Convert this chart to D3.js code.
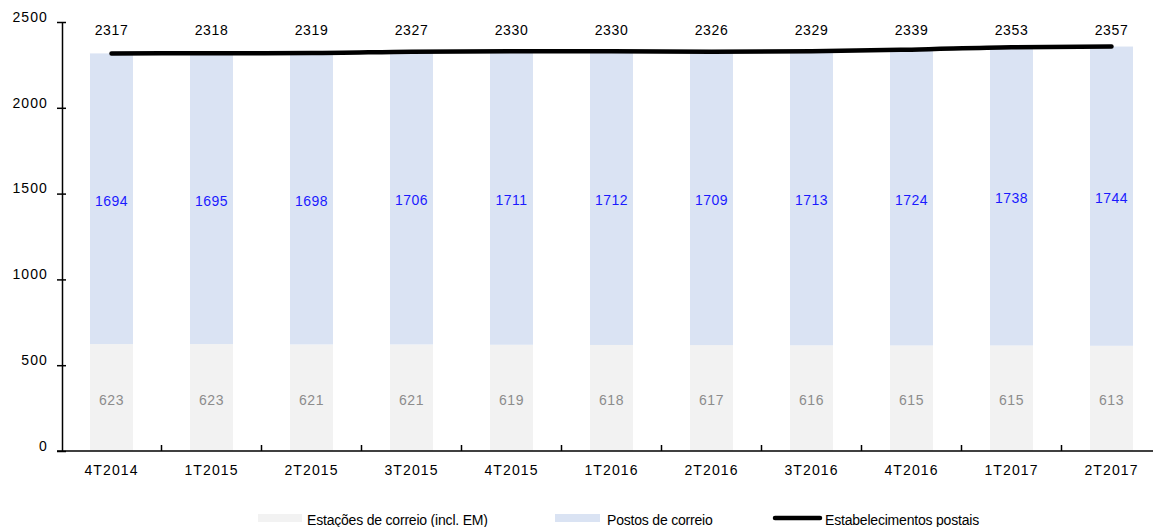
<!doctype html>
<html>
<head>
<meta charset="utf-8">
<script src="https://d3js.org/d3.v7.min.js"></script>
<style>
  body { margin: 0; background: #fff; }
  text { font-family: "Liberation Sans", Arial, sans-serif; }
  .axis text { font-size: 14px; fill: #000; letter-spacing: 1.1px; }
  .axis path, .axis line { stroke: #000; stroke-width: 1.5; }
</style>
</head>
<body>
<script>
var categories = ["4T2014","1T2015","2T2015","3T2015","4T2015","1T2016","2T2016","3T2016","4T2016","1T2017","2T2017"];
var estacoes = [623,623,621,621,619,618,617,616,615,615,613];
var postos = [1694,1695,1698,1706,1711,1712,1709,1713,1724,1738,1744];
var totais = [2317,2318,2319,2327,2330,2330,2326,2329,2339,2353,2357];
var yTicks = [0,500,1000,1500,2000,2500];

var w = 1153, h = 527;
var svg = d3.select("body").append("svg").attr("width", w).attr("height", h);

var x = d3.scaleBand().domain(categories).range([61.5, 1161.5]).paddingInner(0.57).paddingOuter(0.285);
var y = d3.scaleLinear().domain([0, 2500]).range([451, 22]);

var rows = categories.map(function(c, i) {
  return {cat: c, est: estacoes[i], pos: postos[i], tot: totais[i]};
});

// bars
var g = svg.append("g");
g.selectAll(".est").data(rows).enter().append("rect")
  .attr("x", function(d) { return x(d.cat); })
  .attr("width", x.bandwidth())
  .attr("y", function(d) { return y(d.est); })
  .attr("height", function(d) { return y(0) - y(d.est); })
  .attr("fill", "#f2f2f2");
g.selectAll(".pos").data(rows).enter().append("rect")
  .attr("x", function(d) { return x(d.cat); })
  .attr("width", x.bandwidth())
  .attr("y", function(d) { return y(d.est + d.pos); })
  .attr("height", function(d) { return y(d.est) - y(d.est + d.pos); })
  .attr("fill", "#dae3f3");

// axes
var band = d3.scaleBand().domain(categories).range([61.5, 1161.5]);
var xAxis = svg.append("g").attr("class", "axis")
  .attr("transform", "translate(0," + y(0) + ")")
  .call(d3.axisBottom(band).tickSize(0).tickPadding(14));
xAxis.select(".domain").remove();
xAxis.append("line").attr("x1", 57).attr("x2", w).attr("stroke", "#000").attr("stroke-width", 1.5);
xAxis.selectAll(".bt").data(categories.slice(1)).enter().append("line")
  .attr("x1", function(d) { return band(d); }).attr("x2", function(d) { return band(d); })
  .attr("y1", -6).attr("y2", 0).attr("stroke", "#000").attr("stroke-width", 1.5);

var yAxis = svg.append("g").attr("class", "axis")
  .attr("transform", "translate(62,0)")
  .call(d3.axisLeft(y).tickValues(yTicks).tickFormat(d3.format("d")).tickSize(5).tickPadding(9).tickSizeOuter(0));
yAxis.selectAll(".tick line").attr("x1", 4).attr("x2", -5);
yAxis.selectAll(".tick text").attr("dy", "-0.05em");

// line
var line = d3.line()
  .x(function(d) { return x(d.cat) + x.bandwidth() / 2; })
  .y(function(d) { return y(d.tot); })
  .curve(d3.curveMonotoneX);
svg.append("path").datum(rows)
  .attr("d", line)
  .attr("fill", "none")
  .attr("stroke", "#000")
  .attr("stroke-width", 4.5)
  .attr("stroke-linecap", "round");

// labels
var cx = function(d) { return x(d.cat) + x.bandwidth() / 2; };
svg.selectAll(".lt").data(rows).enter().append("text")
  .attr("x", cx).attr("y", 35)
  .attr("text-anchor", "middle").attr("font-size", 14).attr("letter-spacing", 0.6).attr("fill", "#000")
  .text(function(d) { return d.tot; });
svg.selectAll(".lp").data(rows).enter().append("text")
  .attr("x", cx).attr("y", function(d) { return y(d.est + d.pos / 2) + 7; })
  .attr("text-anchor", "middle").attr("font-size", 14).attr("letter-spacing", 0.5).attr("fill", "#1a1aff")
  .text(function(d) { return d.pos; });
svg.selectAll(".le").data(rows).enter().append("text")
  .attr("x", cx).attr("y", function(d) { return y(d.est / 2) + 7; })
  .attr("text-anchor", "middle").attr("font-size", 14).attr("letter-spacing", 0.5).attr("fill", "#8c8c8c")
  .text(function(d) { return d.est; });

// legend
var leg = svg.append("g").attr("font-size", 14);
leg.append("rect").attr("x", 258).attr("y", 514).attr("width", 44).attr("height", 8).attr("fill", "#f2f2f2");
leg.append("text").attr("x", 307).attr("y", 525).attr("letter-spacing", -0.2).text("Estações de correio (incl. EM)");
leg.append("rect").attr("x", 555).attr("y", 514).attr("width", 45).attr("height", 8).attr("fill", "#dae3f3");
leg.append("text").attr("x", 607).attr("y", 525).attr("letter-spacing", -0.2).text("Postos de correio");
leg.append("line").attr("x1", 775).attr("x2", 820).attr("y1", 518).attr("y2", 518)
  .attr("stroke", "#000").attr("stroke-width", 4.5).attr("stroke-linecap", "round");
leg.append("text").attr("x", 825).attr("y", 525).attr("letter-spacing", -0.2).text("Estabelecimentos postais");
</script>
</body>
</html>
